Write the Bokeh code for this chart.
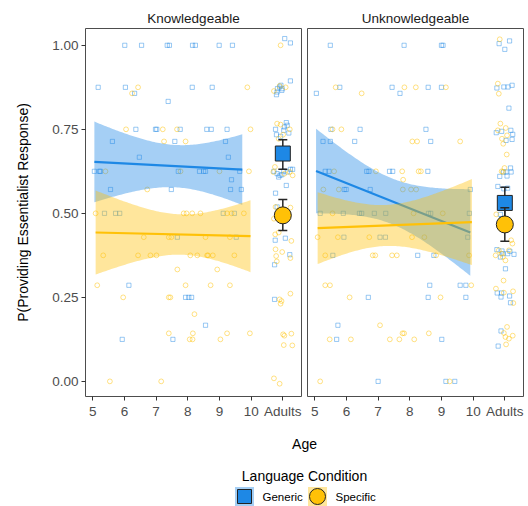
import numpy as np
from bokeh.plotting import figure
from bokeh.layouts import column, row
from bokeh.models import Range1d, FixedTicker
from bokeh.embed import file_html
from bokeh.resources import INLINE
from bokeh.core.properties import value

BLUE = "#1E88E5"
YELLOW = "#FFC107"
ERR = "#262626"
FONT = "Liberation Sans"

panels = ["Knowledgeable", "Unknowledgeable"]
conditions = ["Generic", "Specific"]
x_ticks = [5, 6, 7, 8, 9, 10, 11]
x_tick_labels = ["5", "6", "7", "8", "9", "10", "Adults"]
y_ticks = [0, 0.25, 0.5, 0.75, 1.0]
y_tick_labels = ["0.00", "0.25", "0.50", "0.75", "1.00"]

# ---- individual responses (x = age, or Adults position 11 with jitter) ----
kn_gen_pts = [
    (6.01, 1), (6.54, 1), (7.35, 1), (7.42, 1), (8.15, 1), (8.24, 1), (8.99, 1), (9.41, 1),
    (5.17, .875), (6.03, .875), (8.14, .875), (8.77, .875), (6.32, .857), (7.38, .833),
    (6.36, .75), (6.98, .75), (7.02, .75), (7.76, .75), (8.6, .75), (8.74, .75), (9.24, .75),
    (5.62, .714), (7.59, .714), (9.19, .714), (6.47, .667), (9.28, .667),
    (5.05, .625), (5.21, .625), (5.24, .625), (7.7, .625), (8.37, .625), (8.5, .625), (8.56, .625), (9.64, .625),
    (9.38, .6), (5.56, .571), (7.48, .571), (9.35, .571), (9.69, .571),
    (5.37, .5), (5.72, .5), (5.85, .5), (9.12, .5), (9.47, .5), (7.67, .429), (9.53, .429),
    (6.14, .286), (7.93, .25), (8.03, .25), (8.12, .25), (8.56, .167), (5.93, .125), (7.53, .125),
    (11.06, 1.02), (11.24, 1.007), (11.24, .894), (10.8, .853), (10.82, .861), (10.9, .876), (10.94, .881),
    (10.97, .866), (10.98, .871), (10.83, .871), (11.11, .77), (11.14, .762), (10.77, .75), (11.03, .747),
    (11.19, .739), (10.8, .734), (10.93, .729), (11.05, .757), (10.72, .625), (10.82, .618), (10.91, .613),
    (11.03, .626), (11.14, .623), (11.24, .631), (11.31, .631), (10.87, .608), (10.97, .615), (11.11, .583),
    (10.77, .56), (10.76, .42), (11.08, .426), (11.22, .377), (10.74, .347), (10.74, .244), (10.82, .519),
]
kn_spe_pts = [
    (6.43, .875), (9.88, .875), (6.24, .857), (6.05, .75), (7.21, .75), (7.66, .75), (9.98, .75),
    (7.25, .714), (7.93, .714), (5.4, .625), (7.77, .625), (9.0, .625), (9.93, .625), (6.72, .571),
    (5.09, .5), (7.87, .5), (7.96, .5), (8.14, .5), (8.4, .5), (9.24, .5), (9.38, .5), (9.77, .5),
    (6.61, .429), (7.4, .429), (7.48, .429), (8.56, .429), (9.33, .429),
    (5.33, .375), (6.43, .375), (6.82, .375), (7.01, .375), (8.08, .375), (8.3, .375), (8.61, .375),
    (8.64, .375), (8.79, .375), (9.47, .375), (7.67, .333), (8.93, .333),
    (5.14, .286), (7.93, .286), (8.72, .286), (9.33, .286), (5.96, .25), (7.4, .25), (7.45, .25),
    (8.21, .2), (7.4, .143), (8.16, .143), (9.24, .143), (9.96, .143), (8.06, .125), (8.15, .125), (9.03, .125),
    (5.54, 0), (7.16, 0),
    (10.93, 1.0), (10.72, .864), (10.9, .879), (11.09, .875), (10.82, .767), (10.93, .764), (11.22, .75),
    (11.01, .734), (10.87, .722), (10.75, .638), (10.7, .623), (11.31, .613), (11.22, .623), (11.05, .618),
    (10.77, .519), (11.24, .517), (10.72, .484), (10.76, .4375), (10.87, .443), (11.27, .418), (10.77, .393),
    (10.79, .373), (10.98, .385), (10.81, .357), (11.24, .367), (11.24, .261), (10.9, .244), (10.96, .239),
    (10.93, .231), (11.01, .14), (11.05, .136), (11.27, .142), (11.03, .108), (11.3, .107), (10.72, .009),
    (10.9, -.007),
]
un_gen_pts = [
    (5.49, 1), (7.82, 1), (9.0, 1), (9.05, 1), (5.79, .875), (7.44, .875), (8.58, .875), (9.0, .875),
    (5.05, .857), (7.69, .857), (5.51, .75), (6.43, .75), (8.51, .75),
    (5.26, .714), (5.49, .714), (6.26, .714), (8.66, .714),
    (5.33, .625), (5.45, .625), (6.64, .625), (6.71, .625), (7.36, .625), (7.46, .625), (8.57, .625),
    (5.93, .571), (5.99, .571), (6.75, .571), (9.91, .571),
    (5.17, .5), (5.9, .5), (6.41, .5), (6.48, .5), (6.88, .5), (7.24, .5), (8.59, .5), (8.66, .5), (9.88, .5),
    (5.92, .429), (7.06, .429), (7.23, .429), (9.83, .429), (5.57, .375), (8.25, .375), (8.76, .375),
    (8.63, .286), (9.59, .286), (9.77, .286), (6.69, .25), (8.58, .25), (9.77, .25), (5.73, .167),
    (5.69, .125), (9.01, .125), (7.0, 0), (9.14, 0), (9.42, 0),
    (11.15, 1.013), (11.0, .988), (10.82, 1.005), (10.75, .873), (10.97, .876), (11.1, .876), (11.23, .881),
    (11.13, .813), (10.73, .74), (10.9, .744), (11.19, .747), (11.25, .735), (11.04, .717), (11.23, .72),
    (11.18, .635), (10.96, .623), (11.04, .623), (11.2, .623), (10.84, .61), (11.07, .611), (10.78, .58),
    (10.97, .573), (11.09, .575), (10.86, .497), (10.9, .484), (10.75, .392), (10.91, .388), (10.94, .38),
    (10.86, .37), (11.09, .38), (11.16, .387), (11.29, .378), (11.02, .335), (10.76, .263), (10.9, .263),
    (10.88, .251), (11.15, .254), (11.18, .234), (10.88, .15), (10.79, .105),
]
un_spe_pts = [
    (5.66, .875), (7.83, .875), (8.19, .875), (9.14, .875), (6.48, .857), (5.56, .75), (5.84, .75),
    (8.08, .714), (8.23, .714), (9.59, .714), (5.61, .625), (6.93, .625), (7.76, .625), (8.28, .625), (8.35, .625),
    (7.79, .6), (5.27, .571), (5.76, .571), (7.78, .571), (8.04, .571), (8.2, .571),
    (5.56, .5), (8.12, .5), (9.04, .5), (5.09, .429), (5.73, .429), (6.72, .429), (8.07, .429), (8.46, .429),
    (5.33, .375), (6.83, .375), (6.91, .375), (7.44, .375), (7.59, .375), (8.83, .375), (9.87, .375),
    (5.33, .286), (5.48, .286), (9.94, .286), (6.1, .25), (8.97, .25), (7.06, .167),
    (7.77, .143), (7.82, .143), (8.6, .143), (5.47, .125), (6.14, .125), (7.37, .125), (7.67, .125), (8.14, .125),
    (5.17, 0), (9.26, 0),
    (10.84, 1.018), (10.78, .886), (10.81, .856), (10.86, .767), (10.78, .747), (11.03, .754), (11.07, .732),
    (10.91, .722), (10.95, .707), (11.06, .675), (10.99, .635), (10.9, .625), (10.94, .623), (10.73, .497),
    (11.2, .42), (11.24, .41), (10.81, .39), (10.9, .38), (11.13, .39), (10.71, .375), (10.94, .37),
    (11.02, .36), (10.96, .3), (10.72, .276), (10.97, .264), (11.26, .268), (11.27, .233), (11.07, .162),
    (10.97, .144), (11.02, .132), (11.13, .127), (11.25, .136), (11.04, .11),
]

# ---- linear fits for children: [age_start, age_end, fit_start, fit_end] ----
kn_gen_fit = [5.05, 9.72, 0.653, 0.630]
kn_spe_fit = [5.09, 9.98, 0.443, 0.432]
un_gen_fit = [5.04, 9.91, 0.626, 0.443]
un_spe_fit = [5.09, 9.96, 0.456, 0.474]
# ---- CI half-widths read at start, narrowest point, end ----
kn_gen_ci = [0.120, 0.063, 0.105]
kn_spe_ci = [0.125, 0.060, 0.107]
un_gen_ci = [0.126, 0.068, 0.129]
un_spe_ci = [0.107, 0.061, 0.128]

# ---- adult means with error bars: [mean, low, high] ----
kn_gen_adult = [0.678, 0.631, 0.719]
kn_spe_adult = [0.494, 0.449, 0.541]
un_gen_adult = [0.531, 0.484, 0.578]
un_spe_adult = [0.467, 0.417, 0.517]
ADULT_POS = 11


def band(fit, ci, n=90):
    xs, xe, ys, ye = fit
    hs, hm, he = ci
    A = hs ** 2 - hm ** 2
    B = he ** 2 - hm ** 2
    r = np.sqrt(A / B)
    c = (xs + r * xe) / (1 + r)
    k2 = A / (c - xs) ** 2
    x = np.linspace(xs, xe, n)
    yhat = ys + (ye - ys) * (x - xs) / (xe - xs)
    hw = np.sqrt(hm ** 2 + k2 * (x - c) ** 2)
    return x, yhat - hw, yhat + hw


def make_panel(title, first, gen_pts, spe_pts, gen_fit, spe_fit, gen_ci, spe_ci, gen_ad, spe_ad):
    p = figure(
        frame_width=216, frame_height=368,
        x_range=Range1d(4.77, 11.59), y_range=Range1d(-0.045, 1.05),
        output_backend="svg", toolbar_location=None,
        y_axis_location="left" if first else None,
        min_border_left=85 if first else 3, min_border_right=3 if first else 5,
        min_border_top=28, min_border_bottom=29,
    )
    p.title.text = title
    p.title.align = "center"
    p.title.text_font = FONT
    p.title.text_font_size = "13.5px"
    p.title.text_font_style = "normal"
    p.title.text_color = "#1a1a1a"
    p.title.standoff = 6
    p.xgrid.visible = False
    p.ygrid.visible = False
    p.outline_line_color = "#4D4D4D"
    p.outline_line_width = 1
    p.outline_line_alpha = 1
    p.background_fill_color = "white"
    p.border_fill_color = "white"

    axes = list(p.xaxis) + (list(p.yaxis) if first else [])
    for ax in axes:
        ax.axis_line_color = None
        ax.minor_tick_line_color = None
        ax.major_tick_in = 0
        ax.major_tick_out = 4
        ax.major_tick_line_color = "#333333"
        ax.major_label_standoff = 3
        ax.major_label_text_font = FONT
        ax.major_label_text_font_size = "13.5px"
        ax.major_label_text_color = "#4D4D4D"
    p.xaxis.ticker = FixedTicker(ticks=x_ticks)
    p.xaxis.major_label_overrides = {t: l for t, l in zip(x_ticks, x_tick_labels)}
    if first:
        p.yaxis.ticker = FixedTicker(ticks=y_ticks)
        p.yaxis.major_label_overrides = {t: l for t, l in zip(y_ticks, y_tick_labels)}
        p.yaxis.axis_label = "P(Providing Essentialist Response)"
        p.yaxis.axis_label_text_font = FONT
        p.yaxis.axis_label_text_font_size = "14px"
        p.yaxis.axis_label_text_font_style = "normal"
        p.yaxis.axis_label_text_color = "black"
        p.yaxis.axis_label_standoff = 18

    # raw points (drawn under the ribbons)
    gx, gy = zip(*gen_pts)
    sx, sy = zip(*spe_pts)
    p.scatter(list(gx), list(gy), marker="square", size=4.2, fill_color=None,
              line_color=BLUE, line_alpha=0.5, line_width=0.9)
    p.scatter(list(sx), list(sy), marker="circle", size=4.8, fill_color=None,
              line_color=YELLOW, line_alpha=0.55, line_width=0.9)

    # ribbons and fit lines
    for fit, ci, col in ((gen_fit, gen_ci, BLUE), (spe_fit, spe_ci, YELLOW)):
        bx, lo, hi = band(fit, ci)
        p.varea(x=bx, y1=lo, y2=hi, fill_color=col, fill_alpha=0.4)
        p.line([fit[0], fit[1]], [fit[2], fit[3]], line_color=col, line_width=2.2)

    # adult means
    for ad, col, mk, sz in ((gen_ad, BLUE, "square", 15), (spe_ad, YELLOW, "circle", 17)):
        p.segment(x0=[ADULT_POS], y0=[ad[1]], x1=[ADULT_POS], y1=[ad[2]],
                  line_color=ERR, line_width=1.5)
        p.scatter([ADULT_POS, ADULT_POS], [ad[1], ad[2]], marker="dash", size=9,
                  line_color=ERR, line_width=1.5)
        p.scatter([ADULT_POS], [ad[0]], marker=mk, size=sz, fill_color=col,
                  line_color="#222222", line_width=1)
    return p


left = make_panel(panels[0], True, kn_gen_pts, kn_spe_pts, kn_gen_fit, kn_spe_fit,
                  kn_gen_ci, kn_spe_ci, kn_gen_adult, kn_spe_adult)
right = make_panel(panels[1], False, un_gen_pts, un_spe_pts, un_gen_fit, un_spe_fit,
                   un_gen_ci, un_spe_ci, un_gen_adult, un_spe_adult)

# bottom strip: x-axis title and legend (coordinates are page pixels)
bot = figure(frame_width=528, frame_height=81, x_range=Range1d(0, 528), y_range=Range1d(506, 425),
             output_backend="svg", toolbar_location=None, x_axis_location=None, y_axis_location=None,
             min_border_left=0, min_border_right=0, min_border_top=0, min_border_bottom=0)
bot.xgrid.visible = False
bot.ygrid.visible = False
bot.outline_line_color = None
cx = 304
bot.text(x=[cx], y=[443], text=["Age"], text_align="center", text_baseline="middle",
         text_font=value(FONT), text_font_size="14px", text_color="black")
bot.text(x=[cx], y=[475], text=["Language Condition"], text_align="center", text_baseline="middle",
         text_font=value(FONT), text_font_size="14px", text_color="black")
key_y = 496
for kx, col, mk, sz, lab in ((244, BLUE, "square", 14, conditions[0]), (317, YELLOW, "circle", 16, conditions[1])):
    bot.rect(x=[kx], y=[key_y], width=19, height=19, fill_color=col, fill_alpha=0.4, line_color=None)
    bot.scatter([kx], [key_y], marker=mk, size=sz, fill_color=col, line_color="#222222", line_width=1)
    bot.text(x=[kx + 18], y=[key_y], text=[lab], text_align="left", text_baseline="middle",
             text_font=value(FONT), text_font_size="11.5px", text_color="black")

layout = column(row(left, right), bot)
open("out.html", "w").write(file_html(layout, INLINE))
